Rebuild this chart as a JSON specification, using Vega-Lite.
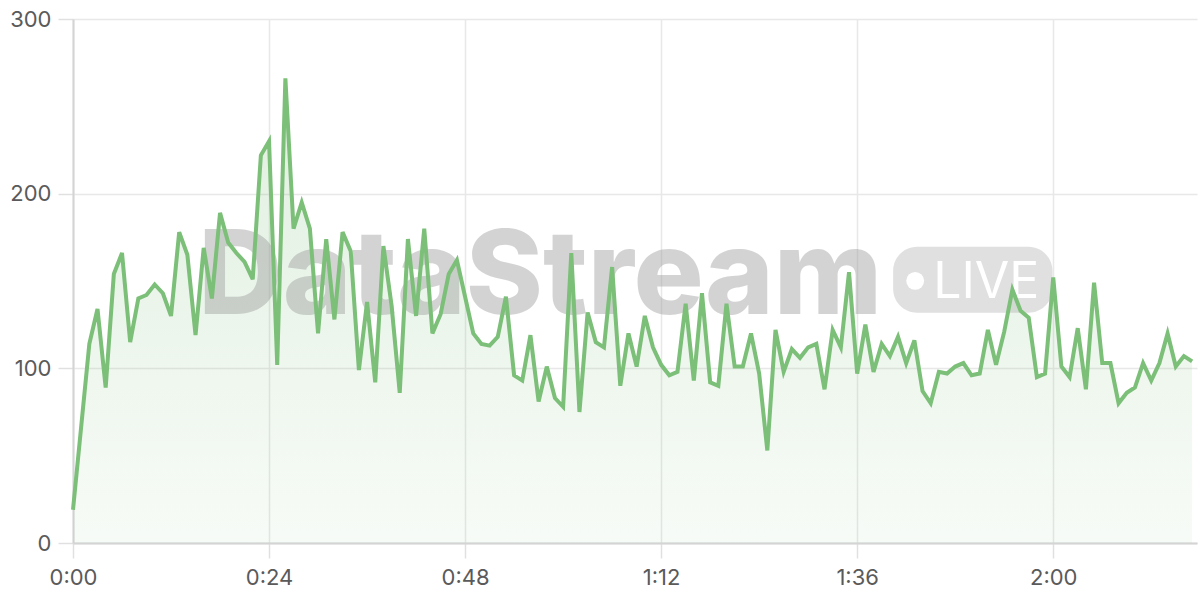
{
  "$schema": "https://vega.github.io/schema/vega-lite/v6.json",
  "width": 1124,
  "height": 524,
  "autosize": {"type": "none"},
  "padding": {"left": 73, "top": 19, "right": 3, "bottom": 57},
  "background": "white",
  "config": {
    "view": {"stroke": null},
    "font": "Inter",
    "axis": {
      "title": null,
      "ticks": true,
      "gridColor": "#e8e8e8",
      "gridWidth": 1.5,
      "tickColor": "#e0e0e0",
      "tickWidth": 1.5,
      "tickSize": 15,
      "domainColor": "#d4d4d4",
      "domainWidth": 2,
      "labelFontSize": 22,
      "labelColor": "#5a5a5a",
      "labelFont": "Inter",
      "labelFlush": false,
      "labelOverlap": false
    }
  },
  "datasets": {
    "series": [
      {"t": 0, "v": 19}, {"t": 2, "v": 114}, {"t": 3, "v": 134}, {"t": 4, "v": 89},
      {"t": 5, "v": 154}, {"t": 6, "v": 166}, {"t": 7, "v": 115}, {"t": 8, "v": 140},
      {"t": 9, "v": 142}, {"t": 10, "v": 148}, {"t": 11, "v": 143}, {"t": 12, "v": 130},
      {"t": 13, "v": 178}, {"t": 14, "v": 165}, {"t": 15, "v": 119}, {"t": 16, "v": 169},
      {"t": 17, "v": 140}, {"t": 18, "v": 189}, {"t": 19, "v": 172}, {"t": 20, "v": 166},
      {"t": 21, "v": 161}, {"t": 22, "v": 151}, {"t": 23, "v": 222}, {"t": 24, "v": 230},
      {"t": 25, "v": 102}, {"t": 26, "v": 266}, {"t": 27, "v": 180}, {"t": 28, "v": 195},
      {"t": 29, "v": 180}, {"t": 30, "v": 120}, {"t": 31, "v": 174}, {"t": 32, "v": 128},
      {"t": 33, "v": 178}, {"t": 34, "v": 167}, {"t": 35, "v": 99}, {"t": 36, "v": 138},
      {"t": 37, "v": 92}, {"t": 38, "v": 170}, {"t": 39, "v": 136}, {"t": 40, "v": 86},
      {"t": 41, "v": 174}, {"t": 42, "v": 130}, {"t": 43, "v": 180}, {"t": 44, "v": 120},
      {"t": 45, "v": 131}, {"t": 46, "v": 154}, {"t": 47, "v": 162}, {"t": 48, "v": 141},
      {"t": 49, "v": 120}, {"t": 50, "v": 114}, {"t": 51, "v": 113}, {"t": 52, "v": 118},
      {"t": 53, "v": 141}, {"t": 54, "v": 96}, {"t": 55, "v": 93}, {"t": 56, "v": 119},
      {"t": 57, "v": 81}, {"t": 58, "v": 101}, {"t": 59, "v": 83}, {"t": 60, "v": 78},
      {"t": 61, "v": 166}, {"t": 62, "v": 75}, {"t": 63, "v": 132}, {"t": 64, "v": 115},
      {"t": 65, "v": 112}, {"t": 66, "v": 158}, {"t": 67, "v": 90}, {"t": 68, "v": 120},
      {"t": 69, "v": 101}, {"t": 70, "v": 130}, {"t": 71, "v": 112}, {"t": 72, "v": 102},
      {"t": 73, "v": 96}, {"t": 74, "v": 98}, {"t": 75, "v": 137}, {"t": 76, "v": 93},
      {"t": 77, "v": 143}, {"t": 78, "v": 92}, {"t": 79, "v": 90}, {"t": 80, "v": 137},
      {"t": 81, "v": 101}, {"t": 82, "v": 101}, {"t": 83, "v": 120}, {"t": 84, "v": 97},
      {"t": 85, "v": 53}, {"t": 86, "v": 122}, {"t": 87, "v": 98}, {"t": 88, "v": 111},
      {"t": 89, "v": 106}, {"t": 90, "v": 112}, {"t": 91, "v": 114}, {"t": 92, "v": 88},
      {"t": 93, "v": 122}, {"t": 94, "v": 112}, {"t": 95, "v": 155}, {"t": 96, "v": 97},
      {"t": 97, "v": 125}, {"t": 98, "v": 98}, {"t": 99, "v": 114}, {"t": 100, "v": 107},
      {"t": 101, "v": 118}, {"t": 102, "v": 103}, {"t": 103, "v": 116}, {"t": 104, "v": 87},
      {"t": 105, "v": 80}, {"t": 106, "v": 98}, {"t": 107, "v": 97}, {"t": 108, "v": 101},
      {"t": 109, "v": 103}, {"t": 110, "v": 96}, {"t": 111, "v": 97}, {"t": 112, "v": 122},
      {"t": 113, "v": 102}, {"t": 114, "v": 121}, {"t": 115, "v": 145}, {"t": 116, "v": 133},
      {"t": 117, "v": 129}, {"t": 118, "v": 95}, {"t": 119, "v": 97}, {"t": 120, "v": 152},
      {"t": 121, "v": 101}, {"t": 122, "v": 95}, {"t": 123, "v": 123}, {"t": 124, "v": 88},
      {"t": 125, "v": 149}, {"t": 126, "v": 103}, {"t": 127, "v": 103}, {"t": 128, "v": 80},
      {"t": 129, "v": 86}, {"t": 130, "v": 89}, {"t": 131, "v": 103}, {"t": 132, "v": 93},
      {"t": 133, "v": 103}, {"t": 134, "v": 120}, {"t": 135, "v": 101}, {"t": 136, "v": 107},
      {"t": 137, "v": 104}
    ],
    "wordmark": [{"label": "DataStream", "t": 57.2, "v": 131}],
    "badge": [{"t0": 100.4, "t1": 119.9, "v0": 131.8, "v1": 169.6}],
    "dot": [{"t": 103.1, "v": 150.1}],
    "live": [{"label": "LIVE", "t": 111.8, "v": 140.4}]
  },
  "layer": [
    {
      "data": {"name": "series"},
      "mark": {
        "type": "area",
        "color": {
          "gradient": "linear",
          "x1": 0, "y1": 0, "x2": 0, "y2": 1,
          "stops": [
            {"offset": 0, "color": "rgba(124,189,120,0.24)"},
            {"offset": 1, "color": "rgba(124,189,120,0.06)"}
          ]
        }
      },
      "encoding": {
        "x": {
          "field": "t", "type": "quantitative",
          "scale": {"domain": [0, 137.6], "nice": false, "zero": false},
          "axis": {
            "values": [0, 24, 48, 72, 96, 120],
            "labelExpr": "floor(datum.value/60) + ':' + (datum.value % 60 < 10 ? '0' : '') + (datum.value % 60)",
            "labelPadding": 9
          }
        },
        "y": {
          "field": "v", "type": "quantitative",
          "scale": {"domain": [0, 300], "nice": false},
          "axis": {"values": [0, 100, 200, 300], "labelPadding": 7}
        }
      }
    },
    {
      "data": {"name": "wordmark"},
      "mark": {"type": "text", "font": "Inter", "fontWeight": 800, "fontSize": 117, "align": "center", "baseline": "alphabetic", "color": "#999999", "opacity": 0.42},
      "encoding": {
        "x": {"field": "t", "type": "quantitative"},
        "y": {"field": "v", "type": "quantitative"},
        "text": {"field": "label"}
      }
    },
    {
      "data": {"name": "badge"},
      "mark": {"type": "rect", "cornerRadius": 24, "color": "#999999", "opacity": 0.3},
      "encoding": {
        "x": {"field": "t0", "type": "quantitative"},
        "x2": {"field": "t1"},
        "y": {"field": "v0", "type": "quantitative"},
        "y2": {"field": "v1"}
      }
    },
    {
      "data": {"name": "dot"},
      "mark": {"type": "point", "shape": "circle", "filled": true, "color": "white", "opacity": 1, "size": 320},
      "encoding": {
        "x": {"field": "t", "type": "quantitative"},
        "y": {"field": "v", "type": "quantitative"}
      }
    },
    {
      "data": {"name": "live"},
      "mark": {"type": "text", "font": "Inter", "fontSize": 50, "align": "center", "baseline": "alphabetic", "color": "white"},
      "encoding": {
        "x": {"field": "t", "type": "quantitative"},
        "y": {"field": "v", "type": "quantitative"},
        "text": {"field": "label"}
      }
    },
    {
      "data": {"name": "series"},
      "mark": {"type": "line", "color": "#7bbf78", "strokeWidth": 4, "strokeJoin": "miter"},
      "encoding": {
        "x": {"field": "t", "type": "quantitative"},
        "y": {"field": "v", "type": "quantitative"}
      }
    }
  ]
}
